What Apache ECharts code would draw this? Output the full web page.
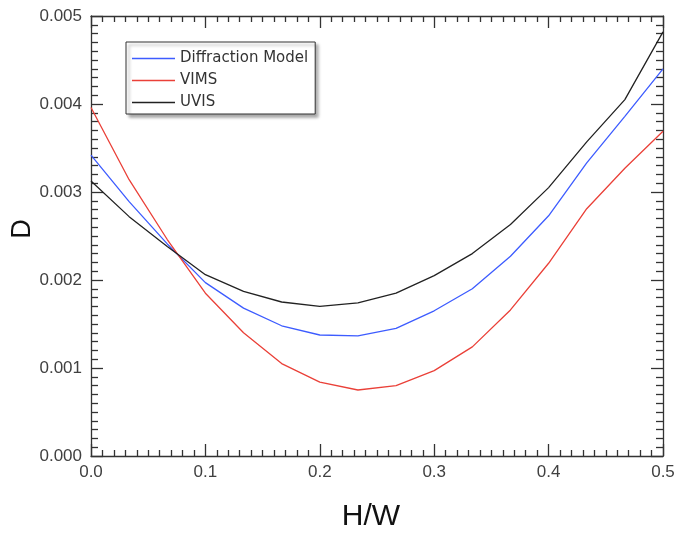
<!DOCTYPE html>
<html>
<head>
<meta charset="utf-8">
<script src="https://cdn.jsdelivr.net/npm/echarts@6/dist/echarts.min.js"></script>
<style>html,body{margin:0;padding:0;background:#fff}#c{width:683px;height:535px}</style>
</head>
<body>
<div id="c"></div>
<script>
const xValues = [0, 1/30, 2/30, 3/30, 4/30, 5/30, 6/30, 7/30, 8/30, 9/30, 10/30, 11/30, 12/30, 13/30, 14/30, 15/30];
const diffraction = [0.00342, 0.00289, 0.00241, 0.00197, 0.00168, 0.00148, 0.001375, 0.001365, 0.00145, 0.00165, 0.0019, 0.00227, 0.00273, 0.00333, 0.00386, 0.0044];
const vims = [0.00396, 0.00314, 0.00246, 0.00185, 0.0014, 0.00105, 0.00084, 0.00075, 0.0008, 0.00097, 0.00124, 0.00166, 0.00219, 0.00281, 0.00327, 0.00369];
const uvis = [0.003125, 0.00272, 0.00238, 0.00206, 0.00187, 0.00175, 0.0017, 0.00174, 0.00185, 0.00205, 0.0023, 0.00263, 0.00305, 0.00357, 0.00405, 0.00482];
const seriesNames = ['Diffraction Model', 'VIMS', 'UVIS'];
const xTickLabels = ['0.0', '0.1', '0.2', '0.3', '0.4', '0.5'];
const yTickLabels = ['0.000', '0.001', '0.002', '0.003', '0.004', '0.005'];

const pair = (ys) => xValues.map((x, i) => [x, ys[i]]);
const axisCol = '#333333';
const font = 'Liberation Sans';

function xAxis(pos, show) {
  return {
    type: 'value', min: 0, max: 0.5, interval: 0.1, position: pos,
    axisLine: { show: true, onZero: false, lineStyle: { color: axisCol, width: 1.3 } },
    axisTick: { show: true, inside: true, length: 12, lineStyle: { color: axisCol, width: 1.3 } },
    minorTick: { show: true, splitNumber: 10, length: 6, lineStyle: { color: axisCol, width: 1.3 } },
    splitLine: { show: false },
    axisLabel: show ? {
      show: true, margin: 8, fontFamily: font, fontSize: 17, color: '#404040',
      formatter: (v) => xTickLabels[Math.round(v * 10)]
    } : { show: false },
    name: show ? 'H/W' : '', nameLocation: 'middle', nameGap: 46,
    nameTextStyle: { fontFamily: font, fontSize: 30, color: '#111', padding: [0, 12, 0, 0] }
  };
}
function yAxis(pos, show) {
  return {
    type: 'value', min: 0, max: 0.005, interval: 0.001, position: pos,
    axisLine: { show: true, onZero: false, lineStyle: { color: axisCol, width: 1.3 } },
    axisTick: { show: true, inside: true, length: 12, lineStyle: { color: axisCol, width: 1.3 } },
    minorTick: { show: true, splitNumber: 10, length: 7, lineStyle: { color: axisCol, width: 1.3 } },
    splitLine: { show: false },
    axisLabel: show ? {
      show: true, margin: 9, fontFamily: font, fontSize: 17, color: '#404040',
      formatter: (v) => yTickLabels[Math.round(v * 1000)]
    } : { show: false },
    name: show ? 'D' : '', nameLocation: 'middle', nameGap: 55, nameRotate: 90,
    nameMoveOverlap: false,
    nameTextStyle: { fontFamily: font, fontSize: 27, color: '#111', padding: [0, 0, 0, 14] }
  };
}

const chart = echarts.init(document.getElementById('c'), null, { renderer: 'canvas' });
chart.setOption({
  animation: false,
  backgroundColor: '#fff',
  grid: { left: 91, right: 20, top: 16, bottom: 79, containLabel: false, outerBoundsMode: 'none' },
  xAxis: [xAxis('bottom', true), xAxis('top', false)],
  yAxis: [yAxis('left', true), yAxis('right', false)],
  legend: {
    show: true, orient: 'vertical', left: 126, top: 42,
    data: seriesNames,
    icon: 'rect',
    itemWidth: 43, itemHeight: 1.3, itemGap: 7,
    padding: [9, 7, 4, 6],
    backgroundColor: '#fff', borderColor: '#333', borderWidth: 1,
    shadowColor: 'rgba(0,0,0,0.35)', shadowBlur: 3, shadowOffsetX: 3, shadowOffsetY: 3,
    textStyle: { fontFamily: 'DejaVu Sans', fontSize: 15, color: '#333' }
  },
  series: [
    { name: seriesNames[0], type: 'line', data: pair(diffraction), symbol: 'none', lineStyle: { color: '#3d5cff', width: 1.3 }, itemStyle: { color: '#3d5cff' } },
    { name: seriesNames[1], type: 'line', data: pair(vims), symbol: 'none', lineStyle: { color: '#ea4038', width: 1.3 }, itemStyle: { color: '#ea4038' } },
    { name: seriesNames[2], type: 'line', data: pair(uvis), symbol: 'none', lineStyle: { color: '#222222', width: 1.3 }, itemStyle: { color: '#222222' } }
  ]
});
</script>
</body>
</html>
